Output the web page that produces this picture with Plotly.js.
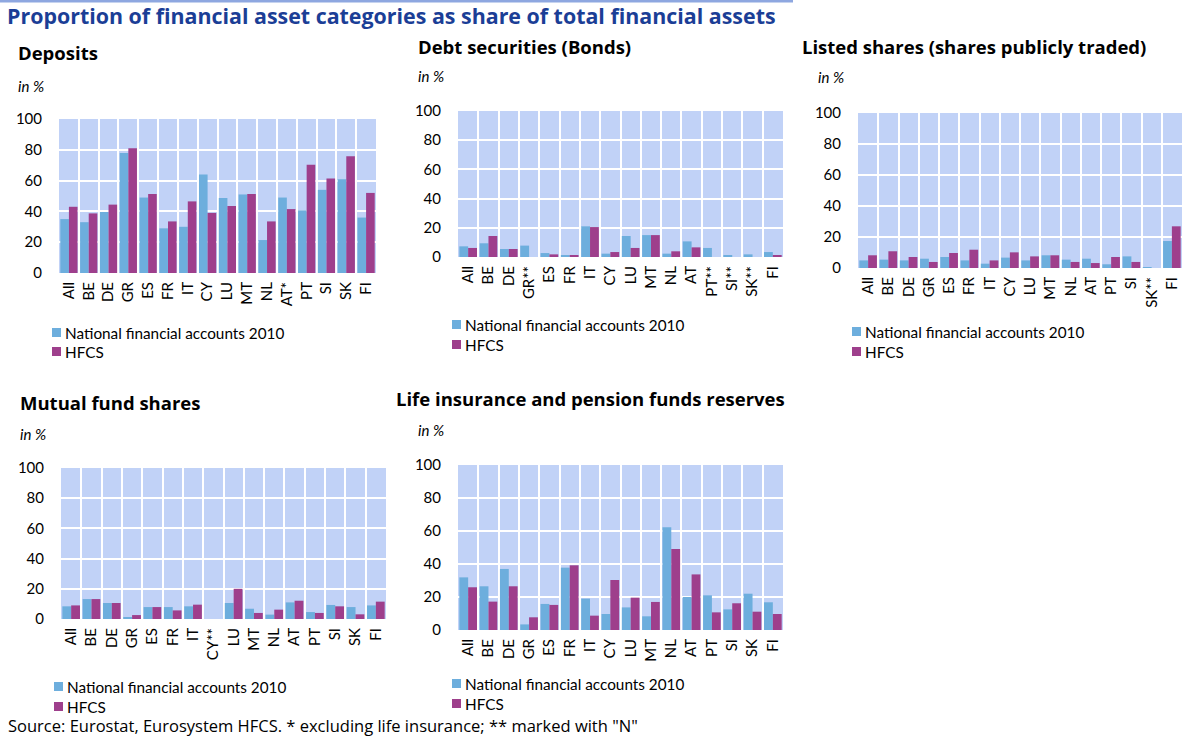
<!DOCTYPE html>
<html>
<head>
<meta charset="utf-8">
<script src="https://cdn.plot.ly/plotly-3.0.1.min.js"></script>
<style>
html,body{margin:0;padding:0;background:#fff;}
#chart{width:1183px;height:742px;}
</style>
</head>
<body>
<div id="chart"></div>
<script>
// ---- Data ----
const depositsCats = ['All','BE','DE','GR','ES','FR','IT','CY','LU','MT','NL','AT*','PT','SI','SK','FI'];
const depositsNFA  = [35, 33, 39.6, 78, 49, 29, 30, 64, 48.7, 51, 21.4, 49, 40.7, 54, 60.8, 36];
const depositsHFCS = [43, 38.7, 44.4, 81, 51.3, 33.5, 46.5, 39, 43.5, 51.3, 33.5, 41.5, 70.3, 61.3, 75.8, 52];

const debtCats = ['All','BE','DE','GR**','ES','FR','IT','CY','LU','MT','NL','AT','PT**','SI**','SK**','FI'];
const debtNFA  = [7.3, 9.4, 5.5, 7.8, 2.7, 1.1, 21, 2.3, 14.4, 15, 2.3, 10.7, 6.2, 1.1, 1.8, 3.4];
const debtHFCS = [6.2, 14.4, 5.5, null, 1.8, 1.1, 20.5, 3.4, 6.2, 15, 3.9, 6.6, null, null, null, 0.7];

const listedCats = ['All','BE','DE','GR','ES','FR','IT','CY','LU','MT','NL','AT','PT','SI','SK**','FI'];
const listedNFA  = [4.9, 5.4, 4.9, 6, 7.1, 4.9, 2.8, 6.7, 4.9, 8.2, 5.4, 6, 2.4, 7.5, 0.6, 17.4];
const listedHFCS = [8.2, 10.8, 7.1, 3.9, 9.7, 11.8, 4.9, 10.1, 7.5, 8.2, 3.9, 3.2, 7.1, 3.9, null, 26.9];

const mutualCats = ['All','BE','DE','GR','ES','FR','IT','CY**','LU','MT','NL','AT','PT','SI','SK','FI'];
const mutualNFA  = [8.4, 13.2, 10.6, 1.3, 7.9, 7.9, 8.4, null, 10.6, 6.8, 2.9, 11, 4.6, 9.3, 7.9, 9];
const mutualHFCS = [9, 13.2, 10.6, 2.6, 7.9, 5.7, 9.5, null, 20, 4, 6.2, 12.1, 4, 8.4, 3.1, 11.5];

const lifeCats = ['All','BE','DE','GR','ES','FR','IT','CY','LU','MT','NL','AT','PT','SI','SK','FI'];
const lifeNFA  = [31.9, 26.5, 37, 3.4, 15.8, 37.8, 19, 9.7, 13.7, 8.3, 62.2, 20, 21, 12.5, 22, 16.8];
const lifeHFCS = [25.9, 17.2, 26.5, 7.7, 15.2, 39.2, 8.7, 30.3, 19.6, 17, 49.1, 33.7, 10.7, 16.2, 11.1, 9.7];

const seriesNames = ['National financial accounts 2010', 'HFCS'];
const panelTitles = ['Deposits','Debt securities (Bonds)','Listed shares (shares publicly traded)','Mutual fund shares','Life insurance and pension funds reserves'];
const mainTitle = 'Proportion of financial asset categories as share of total financial assets';
const sourceText = 'Source: Eurostat, Eurosystem HFCS. * excluding life insurance; ** marked with "N"';

// ---- Layout helpers ----
const W = 1183, H = 742;
const px = x => x / W;
const py = y => 1 - y / H;
const FONT = 'Lato, "Noto Sans", sans-serif';
const TFONT = '"Open Sans", "Noto Sans", sans-serif';
const BLUE = '#6DAEDD', PURPLE = '#9E3F8C', BG = '#C1D2F7';
const COLORS = [BLUE, PURPLE];

const panels = [
  {cats: depositsCats, a: depositsNFA, b: depositsHFCS, box: [59, 376, 119, 273], title: [18, 53], unit: [18, 86], leg: [52, 333, 352]},
  {cats: debtCats, a: debtNFA, b: debtHFCS, box: [458, 783, 111, 257], title: [418, 47], unit: [418, 76], leg: [452, 325, 345]},
  {cats: listedCats, a: listedNFA, b: listedHFCS, box: [858, 1182, 113, 268], title: [802, 47], unit: [818, 77], leg: [852, 332, 352]},
  {cats: mutualCats, a: mutualNFA, b: mutualHFCS, box: [61, 386, 468, 619], title: [20, 402], unit: [20, 434], leg: [54, 687, 707]},
  {cats: lifeCats, a: lifeNFA, b: lifeHFCS, box: [458, 783, 465, 630], title: [396, 398], unit: [418, 430], leg: [452, 684, 704]}
];

const traces = [];
const layout = {
  width: W, height: H,
  margin: {l: 0, r: 0, t: 0, b: 0},
  paper_bgcolor: '#fff',
  plot_bgcolor: BG,
  barmode: 'group',
  bargap: 0.13,
  bargroupgap: 0,
  showlegend: false,
  font: {family: FONT, size: 15, color: '#000'},
  title: {text: '<b>' + mainTitle + '</b>', x: px(7), xref: 'paper', xanchor: 'left', y: py(17), yref: 'paper', yanchor: 'middle',
          font: {family: TFONT, size: 21.4, color: '#1B3E96'}},
  annotations: [],
  shapes: [{type: 'line', xref: 'paper', yref: 'paper', x0: 0, x1: px(793), y0: py(1), y1: py(1), line: {color: '#8EA7E0', width: 3}}]
};

panels.forEach((p, i) => {
  const n = i === 0 ? '' : String(i + 1);
  const xa = 'x' + n, ya = 'y' + n;
  traces.push({type: 'bar', x: p.cats, y: p.a, name: seriesNames[0], marker: {color: BLUE}, xaxis: xa, yaxis: ya, hoverinfo: 'x+y+name'});
  traces.push({type: 'bar', x: p.cats, y: p.b, name: seriesNames[1], marker: {color: PURPLE}, xaxis: xa, yaxis: ya, hoverinfo: 'x+y+name'});
  const [x0, x1, yt, yb] = p.box;
  layout['xaxis' + n] = {
    domain: [px(x0), px(x1)], anchor: ya, type: 'category',
    tickangle: -90, showgrid: true, gridcolor: '#fff', gridwidth: 1.5, tickson: 'boundaries',
    ticks: '', showline: false, zeroline: false, ticklabelstandoff: 5,
    tickfont: {family: FONT, size: 15, color: '#000'}, fixedrange: true
  };
  layout['yaxis' + n] = {
    domain: [py(yb), py(yt)], anchor: xa, range: [0, 100], dtick: 20, tick0: 0,
    showgrid: true, gridcolor: '#fff', gridwidth: 2, zeroline: false, showline: false,
    ticks: '', ticklabelstandoff: 16,
    tickfont: {family: FONT, size: 15, color: '#000'}, fixedrange: true
  };
  // manual legend: coloured square + real text
  const lx = p.leg[0];
  [p.leg[1], p.leg[2]].forEach((ly, k) => {
    layout.shapes.push({type: 'rect', xref: 'paper', yref: 'paper', x0: px(lx), x1: px(lx + 9), y0: py(ly + 4), y1: py(ly - 5),
      fillcolor: COLORS[k], line: {width: 0}});
    layout.annotations.push({text: seriesNames[k], xref: 'paper', yref: 'paper', x: px(lx + 11), y: py(ly), xanchor: 'left', yanchor: 'middle',
      showarrow: false, font: {family: FONT, size: 15.3, color: '#000'}});
  });
  layout.annotations.push({text: '<b>' + panelTitles[i] + '</b>', xref: 'paper', yref: 'paper', x: px(p.title[0] - 2), y: py(p.title[1]),
    xanchor: 'left', yanchor: 'middle', showarrow: false, font: {family: TFONT, size: 18.5, color: '#000'}});
  layout.annotations.push({text: '<i>in %</i>', xref: 'paper', yref: 'paper', x: px(p.unit[0] - 2), y: py(p.unit[1]),
    xanchor: 'left', yanchor: 'middle', showarrow: false, font: {family: FONT, size: 15, color: '#000'}});
});

layout.annotations.push({text: sourceText, xref: 'paper', yref: 'paper', x: px(6), y: py(725), xanchor: 'left', yanchor: 'middle',
  showarrow: false, font: {family: TFONT, size: 16.5, color: '#000'}});

Plotly.newPlot('chart', traces, layout, {displayModeBar: false, responsive: false});
</script>
</body>
</html>
